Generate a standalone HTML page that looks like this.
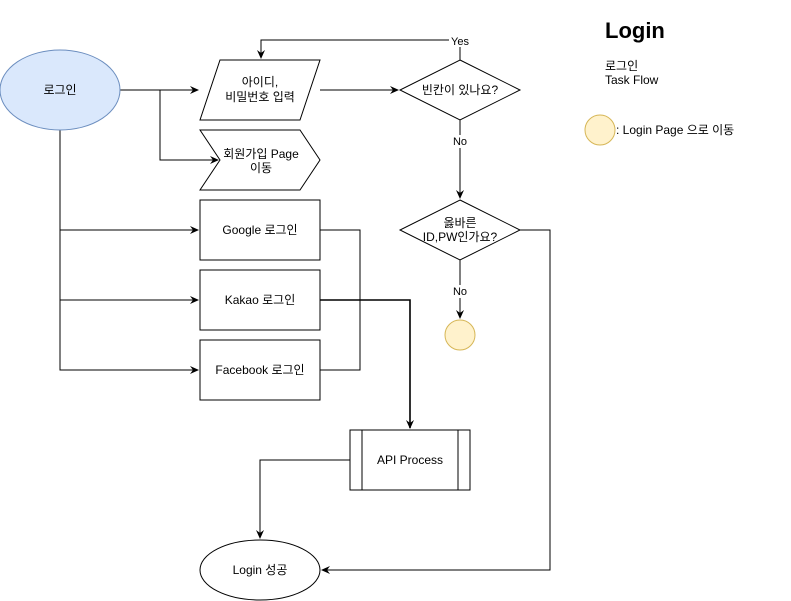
<!DOCTYPE html>
<html><head><meta charset="utf-8"><style>
html,body{margin:0;padding:0;background:#fff;}
svg{display:block;}
text{font-family:"Liberation Sans","Noto Sans CJK KR",sans-serif;font-size:12px;fill:#000;}
</style></head><body>
<svg width="791" height="601" viewBox="0 0 791 601" xmlns="http://www.w3.org/2000/svg">
<defs>
<marker id="a" markerWidth="10" markerHeight="10" refX="8" refY="5" orient="auto" markerUnits="userSpaceOnUse">
<path d="M0,1 L9,5 L0,9 L3,5 Z" fill="#000"/></marker>
</defs>
<g fill="none" stroke="#000" stroke-width="1">
<path d="M120,90 H198" marker-end="url(#a)"/>
<path d="M160,90 V160 H218" marker-end="url(#a)"/>
<path d="M60,130 V370 H198" marker-end="url(#a)"/>
<path d="M60,230 H198" marker-end="url(#a)"/>
<path d="M60,300 H198" marker-end="url(#a)"/>
<path d="M320,90 H398" marker-end="url(#a)"/>
<path d="M460,60 V40 H261 V58" marker-end="url(#a)"/>
<path d="M460,120 V198" marker-end="url(#a)"/>
<path d="M460,260 V318" marker-end="url(#a)"/>
<path d="M320,230 H360 V370 H320"/>
<path d="M320,300 H410 V428" stroke-width="1.6" marker-end="url(#a)"/>
<path d="M350,460 H260 V538" marker-end="url(#a)"/>
<path d="M520,230 H550 V570 H322" marker-end="url(#a)"/>
</g>
<rect x="449" y="34" width="22" height="13" fill="#fff"/>
<text x="460" y="45" text-anchor="middle" style="font-size:11px">Yes</text>
<rect x="451" y="135" width="18" height="13" fill="#fff"/>
<text x="460" y="145" text-anchor="middle" style="font-size:11px">No</text>
<rect x="451" y="285" width="18" height="13" fill="#fff"/>
<text x="460" y="295" text-anchor="middle" style="font-size:11px">No</text>
<ellipse cx="60" cy="90" rx="60" ry="40" fill="#dae8fc" stroke="#6c8ebf"/>
<text x="60" y="94" text-anchor="middle">로그인</text>
<polygon points="220,60 320,60 300,120 200,120" fill="#fff" stroke="#000"/>
<text x="260" y="86" text-anchor="middle">아이디,</text>
<text x="260" y="101" text-anchor="middle">비밀번호 입력</text>
<polygon points="200,130 300,130 320,160 300,190 200,190 220,160" fill="#fff" stroke="#000"/>
<text x="261" y="158" text-anchor="middle">회원가입 Page</text>
<text x="261" y="172" text-anchor="middle">이동</text>
<polygon points="460,60 520,90 460,120 400,90" fill="#fff" stroke="#000"/>
<text x="460" y="94" text-anchor="middle">빈칸이 있나요?</text>
<polygon points="460,200 520,230 460,260 400,230" fill="#fff" stroke="#000"/>
<text x="460" y="227" text-anchor="middle">옳바른</text>
<text x="460" y="241" text-anchor="middle">ID,PW인가요?</text>
<rect x="200" y="200" width="120" height="60" fill="#fff" stroke="#000"/>
<text x="260" y="234" text-anchor="middle">Google 로그인</text>
<rect x="200" y="270" width="120" height="60" fill="#fff" stroke="#000"/>
<text x="260" y="304" text-anchor="middle">Kakao 로그인</text>
<rect x="200" y="340" width="120" height="60" fill="#fff" stroke="#000"/>
<text x="260" y="374" text-anchor="middle">Facebook 로그인</text>
<circle cx="460" cy="335" r="15" fill="#fff2cc" stroke="#d6b656"/>
<rect x="350" y="430" width="120" height="60" fill="#fff" stroke="#000"/>
<line x1="362" y1="430" x2="362" y2="490" stroke="#000"/>
<line x1="458" y1="430" x2="458" y2="490" stroke="#000"/>
<text x="410" y="464" text-anchor="middle">API Process</text>
<ellipse cx="260" cy="570" rx="60" ry="30" fill="#fff" stroke="#000"/>
<text x="260" y="574" text-anchor="middle">Login 성공</text>
<text x="605" y="38" style="font-size:22px;font-weight:bold">Login</text>
<text x="605" y="70">로그인</text>
<text x="605" y="84">Task Flow</text>
<circle cx="600" cy="130" r="15" fill="#fff2cc" stroke="#d6b656"/>
<text x="616" y="134">: Login Page 으로 이동</text>
</svg>
</body></html>
